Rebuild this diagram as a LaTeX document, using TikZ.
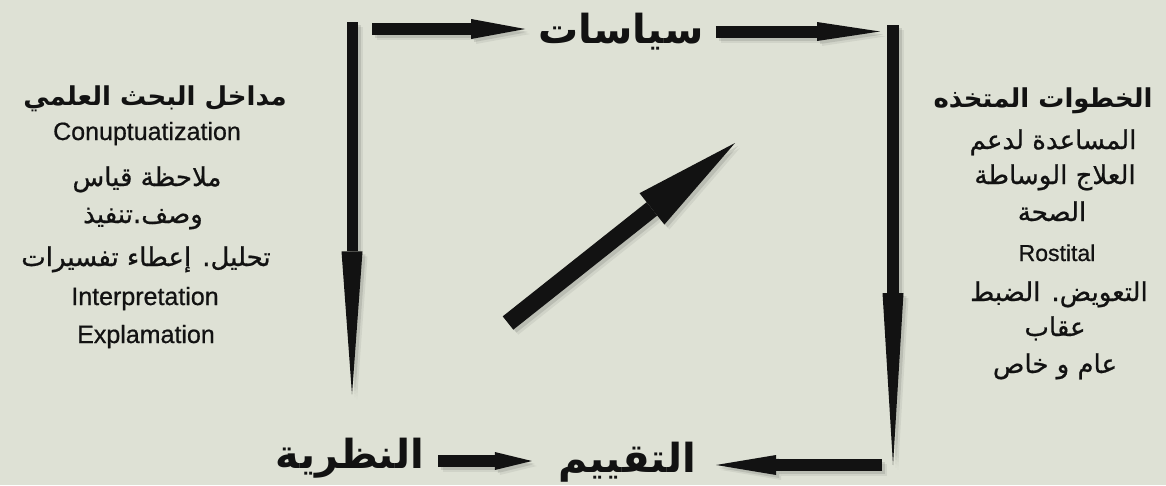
\documentclass[tikz,border=0pt]{standalone}
\usepackage{fontspec}
\setmainfont{Liberation Sans}
\newfontfamily\arabicfont[Script=Arabic]{DejaVu Sans}
\newfontfamily\arabicmed[Script=Arabic,FakeBold=0.7]{DejaVu Sans}
\newfontfamily\latmed[FakeBold=0.7]{Liberation Sans}
\TeXXeTstate=1
\usetikzlibrary{arrows.meta}
\definecolor{bg}{RGB}{222,225,213}
\definecolor{ink}{RGB}{18,18,18}
\newcommand{\allarrows}{%
\draw[shaft, shorten >=13pt, -{Triangle[length=54pt,width=20pt,line width=0pt]}] (tl) -- (tl -| siyasat.west);
\draw[shaft, shorten <=12pt, -{Triangle[length=63pt,width=19pt,line width=0pt]}] (tr -| siyasat.east) -- (tr);
\draw[shaft, line width=11pt, shorten >=43pt, -{Triangle[length=143pt,width=21pt,line width=0pt]}] (lt) -- (lt |- nazariya.north);
\draw[shaft, -{Triangle[length=172pt,width=21pt,line width=0pt]}] (rt) -- (rb);
\draw[shaft, shorten >=20pt, -{Triangle[length=60pt,width=20pt,line width=0pt]}] (br) -- (br -| taqyim.east);
\draw[shaft, shorten <=14pt, shorten >=26pt, -{Triangle[length=37pt,width=18pt,line width=0pt]}] (nazariya.east |- bm) -- (taqyim.west |- bm);
\draw[shaft, line width=17pt, -{Triangle[length=106pt,width=40pt,line width=0pt]}] (d1) -- (d2);}
\begin{document}
\begin{tikzpicture}[x=1pt,y=-1pt,
  lbl/.style={font=\arabicfont\bfseries\fontsize{40}{48}\selectfont, text=ink, inner sep=0pt, anchor=base},
  headtxt/.style={font=\arabicfont\bfseries\fontsize{26}{30}\selectfont, text=ink, inner sep=0pt, anchor=base},
  artxt/.style={font=\arabicmed\fontsize{26}{30}\selectfont, text=ink, inner sep=0pt, anchor=base},
  lattxt/.style={font=\latmed\fontsize{25}{29}\selectfont, text=ink, inner sep=0pt, anchor=base},
  shaft/.style={draw=ink, line width=12pt, line cap=butt}]
\fill[bg] (0,0) rectangle (1166,485);
\useasboundingbox (0,0) rectangle (1166,485);

% main labels
\node[lbl] (siyasat) at (621,43) {\beginR سياسات\endR};
\node[lbl] (taqyim) at (627,472) {\beginR التقييم\endR};
\node[lbl] (nazariya) at (350,468) {\beginR النظرية\endR};

% left block
\node[headtxt] (l1) at (155,105) {\beginR مداخل البحث العلمي\endR};
\node[lattxt]  (l2) at (147,140) {Conuptuatization};
\node[artxt]   (l3) at (147,186) {\beginR ملاحظة قياس\endR};
\node[artxt]   (l4) at (143,223) {\beginR وصف.تنفيذ\endR};
\node[artxt]   (l5) at (146,266) {\beginR تحليل. إعطاء تفسيرات\endR};
\node[lattxt]  (l6) at (145,305) {Interpretation};
\node[lattxt]  (l7) at (146,343) {Explamation};

% right block
\node[headtxt] (r1) at (1043,107) {\beginR الخطوات المتخذه\endR};
\node[artxt]   (r2) at (1053,149) {\beginR المساعدة لدعم\endR};
\node[artxt]   (r3) at (1055,184) {\beginR العلاج الوساطة\endR};
\node[artxt]   (r4) at (1052,221) {\beginR الصحة\endR};
\node[lattxt, font=\latmed\fontsize{23}{27}\selectfont] (r5) at (1057,261) {Rostital};
\node[artxt]   (r6) at (1059,301) {\beginR التعويض. الضبط\endR};
\node[artxt]   (r7) at (1055,336) {\beginR عقاب\endR};
\node[artxt]   (r8) at (1055,373) {\beginR عام و خاص\endR};

% free ends
\coordinate (tl) at (372,29);
\coordinate (tr) at (880,31.5);
\coordinate (lt) at (352,22);
\coordinate (rt) at (893,25);
\coordinate (rb) at (893,465);
\coordinate (br) at (882,465);
\coordinate (bm) at (0,461);
\coordinate (d1) at (508,323);
\coordinate (d2) at (735,143);

% soft shadows
\begin{scope}[transform canvas={shift={(5pt,-5pt)}}, shaft/.append style={draw=black, opacity=0.06}]
\allarrows
\end{scope}
\begin{scope}[transform canvas={shift={(3pt,-3pt)}}, shaft/.append style={draw=black, opacity=0.10}]
\allarrows
\end{scope}
% arrows
\allarrows
\end{tikzpicture}
\end{document}
